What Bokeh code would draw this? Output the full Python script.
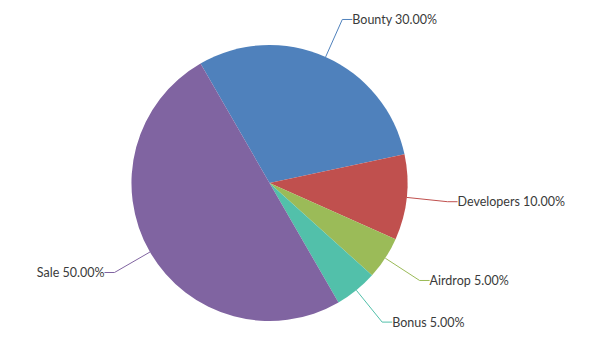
import numpy as np
from bokeh.plotting import figure
from bokeh.models import ColumnDataSource
from bokeh.core.properties import value
from bokeh.embed import file_html
from bokeh.resources import INLINE

labels = ["Bounty", "Developers", "Airdrop", "Bonus", "Sale"]
percents = [30, 10, 5, 5, 50]
colors = ["#4F81BC", "#C0504E", "#9BBB58", "#52C0AA", "#8064A1"]

W, H = 582, 351
cx, cy = 269, H - 182.5
R = 138
R_label = 179
start_deg = -30  # clockwise from top

p = figure(width=W, height=H, x_range=(0, W), y_range=(0, H),
           output_backend="svg", toolbar_location=None, min_border=0)
p.axis.visible = False
p.grid.visible = False
p.outline_line_color = None

vals = np.array(percents, dtype=float)
cum = np.concatenate([[0], np.cumsum(vals)]) / vals.sum() * 360.0
th0 = start_deg + cum[:-1]
th1 = start_deg + cum[1:]
mid = (th0 + th1) / 2

src = ColumnDataSource(dict(
    start=np.radians(90 - th1), end=np.radians(90 - th0), color=colors))
p.wedge(x=cx, y=cy, radius=R, start_angle="start", end_angle="end",
        fill_color="color", line_color=None, source=src)

for lab, pc, col, m in zip(labels, percents, colors, mid):
    mr = np.radians(m)
    ex, ey = cx + R * np.sin(mr), cy + R * np.cos(mr)
    kx, ky = cx + R_label * np.sin(mr), cy + R_label * np.cos(mr)
    right = np.sin(mr) >= 0
    hx = kx + (10 if right else -10)
    p.line([ex, kx, hx], [ey, ky, ky], line_color=col, line_width=1)
    p.text(x=[hx], y=[ky], text=[f"{lab} {pc:.2f}%"],
           text_font=value("Lato"), text_font_size="12.5px", text_color="#3a3a3a",
           text_baseline="middle", text_align="left" if right else "right")

open("out.html", "w").write(file_html(p, INLINE))
